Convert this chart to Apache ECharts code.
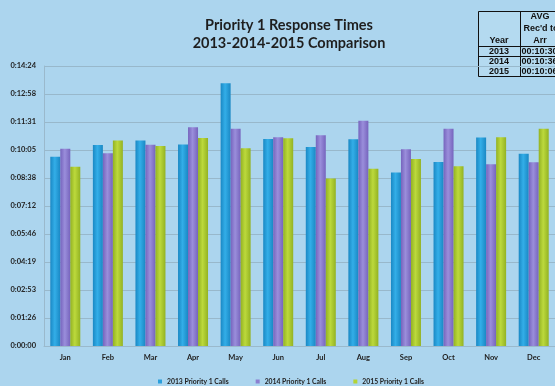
<!DOCTYPE html>
<html>
<head>
<meta charset="utf-8">
<script src="https://cdn.jsdelivr.net/npm/echarts@6/dist/echarts.min.js"></script>
<style>
html,body{margin:0;padding:0;background:#acd5ee;}
#c{width:555px;height:386px;}
</style>
</head>
<body>
<div id="c"></div>
<script>
// Data (values in seconds)
var categories = ['Jan','Feb','Mar','Apr','May','Jun','Jul','Aug','Sep','Oct','Nov','Dec'];
var seriesNames = ['2013 Priority 1 Calls','2014 Priority 1 Calls','2015 Priority 1 Calls'];
var calls2013 = [584, 620, 634, 622, 811, 639, 614, 638, 535, 568, 643, 593];
var calls2014 = [609, 595, 621, 675, 670, 644, 650, 695, 607, 670, 561, 567];
var calls2015 = [553, 634, 617, 642, 610, 641, 517, 547, 577, 555, 644, 670];
var yMax = 864;
var yInterval = 86.4;
var tableYears = ['2013','2014','2015'];
var tableAvg = ['00:10:30','00:10:36','00:10:06'];
var titleLines = ['Priority 1 Response Times','2013-2014-2015 Comparison'];

function fmt(v){
  var s = Math.round(v);
  var h = Math.floor(s/3600), m = Math.floor((s%3600)/60), sec = s%60;
  return h + ':' + (m<10?'0':'') + m + ':' + (sec<10?'0':'') + sec;
}
function grad(edge, mid){
  return new echarts.graphic.LinearGradient(0,0,1,0,[
    {offset:0,color:edge},{offset:0.45,color:mid},{offset:1,color:edge}
  ]);
}
var colors = [grad('#1a88c4','#33aee8'), grad('#7664bd','#9a8edb'), grad('#93b223','#bcd93c')];
var legendColors = ['#2a9fdc','#8b7fd0','#b3d335'];
var allData = [calls2013, calls2014, calls2015];

var chart = echarts.init(document.getElementById('c'));
var series = allData.map(function(d,i){
  return {
    name: seriesNames[i], type:'bar', data:d, barWidth:10, barGap:'0%',
    itemStyle:{color:colors[i]}
  };
});

var tf = 'bold 9px "Liberation Sans", Arial, sans-serif';
var tableEls = [
  {type:'rect', shape:{x:478.5,y:11.5,width:85,height:65}, style:{fill:'#b4daf0',stroke:'#111',lineWidth:1}},
  {type:'line', shape:{x1:520.5,y1:11.5,x2:520.5,y2:76.5}, style:{stroke:'#111',lineWidth:1}},
  {type:'line', shape:{x1:478.5,y1:46.5,x2:560,y2:46.5}, style:{stroke:'#111',lineWidth:1.2}},
  {type:'line', shape:{x1:478.5,y1:56.5,x2:560,y2:56.5}, style:{stroke:'#111',lineWidth:1.2}},
  {type:'line', shape:{x1:478.5,y1:66.5,x2:560,y2:66.5}, style:{stroke:'#111',lineWidth:1.2}},
  {type:'text', x:499, y:40.5, style:{text:'Year', font:tf, fill:'#111', textAlign:'center', textVerticalAlign:'middle'}},
  {type:'text', x:540, y:16.5, style:{text:'AVG', font:tf, fill:'#111', textAlign:'center', textVerticalAlign:'middle'}},
  {type:'text', x:541, y:28.5, style:{text:"Rec'd to", font:tf, fill:'#111', textAlign:'center', textVerticalAlign:'middle'}},
  {type:'text', x:540, y:40.5, style:{text:'Arr', font:tf, fill:'#111', textAlign:'center', textVerticalAlign:'middle'}}
];
tableYears.forEach(function(y,i){
  tableEls.push({type:'text', x:499, y:51.8+i*10, style:{text:y, font:tf, fill:'#111', textAlign:'center', textVerticalAlign:'middle'}});
  tableEls.push({type:'text', x:521.5, y:51.8+i*10, style:{text:tableAvg[i], font:tf, fill:'#111', textAlign:'left', textVerticalAlign:'middle'}});
});

var option = {
  backgroundColor:'#acd5ee',
  animation:false,
  title:{
    text: titleLines.join('\n'),
    left: 284, top: 11, textAlign:'center',
    textStyle:{fontFamily:'Lato', fontWeight:'bold', fontSize:14.5, color:'#1e1e1e', lineHeight:18}
  },
  legend:{
    data: seriesNames.map(function(n,i){return {name:n, itemStyle:{color:legendColors[i]}};}),
    left: 153, top: 373, icon:'rect', itemWidth:4, itemHeight:4, itemGap:27,
    textStyle:{fontFamily:'Lato', fontWeight:'bold', fontSize:6.8, color:'#222'}
  },
  grid:{left:44, right:-5, top:66, bottom:40},
  xAxis:{
    type:'category', data:categories,
    axisLine:{lineStyle:{color:'#9ab9cc'}}, axisTick:{show:false},
    axisLabel:{fontFamily:'Lato', fontWeight:'bold', fontSize:7.5, color:'#222', margin:8}
  },
  yAxis:{
    type:'value', min:0, max:yMax, interval:yInterval,
    axisLine:{show:true, lineStyle:{color:'#9ab9cc'}},
    splitLine:{lineStyle:{color:'#98b8cb'}},
    axisLabel:{fontFamily:'Lato', fontWeight:'bold', fontSize:7.5, color:'#222', margin:8, formatter:fmt}
  },
  series: series,
  graphic: tableEls
};
chart.setOption(option);
</script>
</body>
</html>
